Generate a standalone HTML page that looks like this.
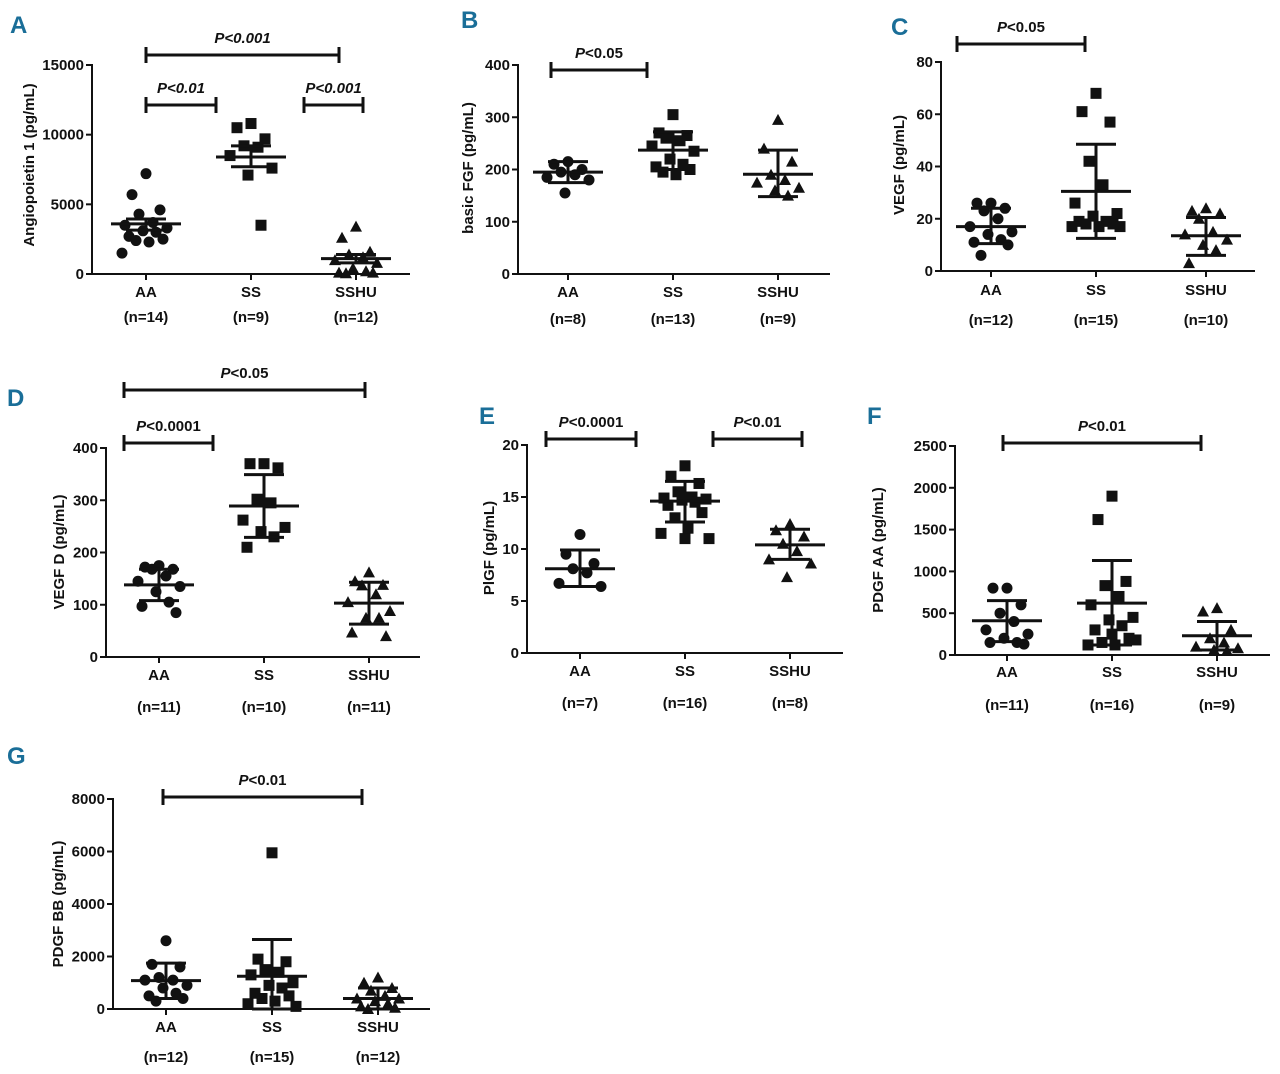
<!DOCTYPE html>
<html><head><meta charset="utf-8"><style>
html,body{margin:0;padding:0;background:#fff;}
svg{display:block;font-family:"Liberation Sans Narrow","Liberation Sans",sans-serif;}
.t{font-weight:bold;font-size:15px;fill:#111;}
.tk{font-weight:bold;font-size:15px;fill:#111;}
.lt{font-family:"Liberation Sans Narrow","Liberation Sans",sans-serif;font-weight:bold;font-size:24px;fill:#1a6e98;}
</style></head><body>
<svg id="fig" width="1280" height="1074" viewBox="0 0 1280 1074" xmlns="http://www.w3.org/2000/svg"></svg>
<script>
const categories = ["AA","SS","SSHU"];
// Panel A: Angiopoietin 1
const aAA = [7200,5700,4600,4300,3700,3500,3300,3100,3000,2700,2500,2400,2300,1500];
const aSS = [10800,10500,9700,9200,9100,8500,7600,7100,3500];
const aSSHU = [3400,2600,1600,1400,1200,1000,800,400,200,100,100,50];
const aMean = [3600,8400,1100];
const aLow = [3150,7700,800];
const aHigh = [3950,9200,1400];
const aN = [14,9,12];
const aTicks = [0,5000,10000,15000];
// Panel B: basic FGF
const bAA = [215,210,200,195,190,185,180,155];
const bSS = [305,270,265,260,255,245,235,220,210,205,200,195,190];
const bSSHU = [295,240,215,190,180,175,165,160,150];
const bMean = [195,237,191];
const bLow = [175,200,148];
const bHigh = [215,272,237];
const bN = [8,13,9];
const bTicks = [0,100,200,300,400];
// Panel C: VEGF
const cAA = [26,26,24,23,20,17,15,14,12,11,10,6];
const cSS = [68,61,57,42,33,26,22,21,19,19,18,18,17,17,17];
const cSSHU = [24,23,22,20,15,14,12,10,8,3];
const cMean = [17,30.5,13.5];
const cLow = [10.5,12.5,6];
const cHigh = [24,48.5,20.5];
const cN = [12,15,10];
const cTicks = [0,20,40,60,80];
// Panel D: VEGF D
const dAA = [175,172,168,168,155,145,135,125,105,97,85];
const dSS = [370,370,362,302,295,262,248,240,230,210];
const dSSHU = [162,145,138,137,120,105,88,75,75,47,40];
const dMean = [138,289,103];
const dLow = [108,229,63];
const dHigh = [168,349,143];
const dN = [11,10,11];
const dTicks = [0,100,200,300,400];
// Panel E: PlGF
const eAA = [11.4,9.5,8.6,8.1,7.7,6.7,6.4];
const eSS = [18,17,16.3,15.5,15,14.9,14.8,14.7,14.5,14.2,13.5,13,12,11.5,11,11];
const eSSHU = [12.4,11.8,11.2,10.5,9.8,9,8.6,7.3];
const eMean = [8.1,14.6,10.4];
const eLow = [6.4,12.6,9];
const eHigh = [9.9,16.5,11.9];
const eN = [7,16,8];
const eTicks = [0,5,10,15,20];
// Panel F: PDGF AA
const fAA = [800,800,600,500,400,300,250,200,150,150,130];
const fSS = [1900,1620,880,830,700,600,450,420,350,300,200,150,120,120,180,250];
const fSSHU = [560,520,300,200,150,100,80,60,50];
const fMean = [410,620,230];
const fLow = [160,120,60];
const fHigh = [650,1130,400];
const fN = [11,16,9];
const fTicks = [0,500,1000,1500,2000,2500];
// Panel G: PDGF BB
const gAA = [2600,1700,1600,1200,1100,1100,900,800,600,500,400,300];
const gSS = [5950,1900,1800,1500,1400,1300,1000,900,800,600,500,400,300,200,100];
const gSSHU = [1200,1000,800,700,500,400,400,300,200,100,50,0];
const gMean = [1080,1250,400];
const gLow = [400,0,0];
const gHigh = [1750,2650,800];
const gN = [12,15,12];
const gTicks = [0,2000,4000,6000,8000];

const NS="http://www.w3.org/2000/svg";
const svg=document.getElementById('fig');
function mk(tag,attrs,parent){const e=document.createElementNS(NS,tag);for(const k in attrs)e.setAttribute(k,attrs[k]);(parent||svg).appendChild(e);return e;}
const jit=[0,-14,14,-7,7,-21,21,-3,10,-17,17,-10,3,-24,24,0];

function panel(p){
  const g=mk('g',{});
  
  
  const yS=v=>p.y0-(v/p.max)*(p.y0-p.y1);
  const lt=mk('text',{x:p.lx,y:p.ly,class:'lt'},g);lt.textContent=p.id;
  
  const ax=mk('path',{d:`M${p.ax} ${p.y1-1}V${p.y0}H${p.xe}`,stroke:'#111','stroke-width':2,fill:'none'},g);
  
  p.ticks.forEach(t=>{const y=yS(t);mk('line',{x1:p.ax-6,x2:p.ax,y1:y,y2:y,stroke:'#111','stroke-width':2},g);
    const tx=mk('text',{x:p.ax-8,y:y+5,'text-anchor':'end',class:'tk'},g);tx.textContent=t;
    });
  const yt=mk('text',{x:p.tx,y:p.tyc,'text-anchor':'middle',class:'t',transform:`rotate(-90 ${p.tx} ${p.tyc})`,'font-size':'16px'},g);
  yt.textContent=p.title;
  p.series.forEach((vals,i)=>{
    const cx=p.cx[i];
    mk('line',{x1:cx,x2:cx,y1:p.y0,y2:p.y0+6,stroke:'#111','stroke-width':2},g);
    const cl=mk('text',{x:cx,y:p.cly,'text-anchor':'middle',class:'t'},g);cl.textContent=categories[i];
    
    const nl=mk('text',{x:cx,y:p.nly,'text-anchor':'middle',class:'t','font-size':p.nfs||'14px'},g);nl.textContent='(n='+p.n[i]+')';
    
    vals.forEach((v,j)=>{const x=cx+jit[j%jit.length],y=yS(v);let m;
      if(i===0)m=mk('circle',{cx:x,cy:y,r:5.5,fill:'#111'},g);
      else if(i===1)m=mk('rect',{x:x-5.5,y:y-5.5,width:11,height:11,fill:'#111'},g);
      else m=mk('path',{d:`M${x} ${y-6}L${x+6} ${y+5}L${x-6} ${y+5}Z`,fill:'#111'},g);
      });
    const ym=yS(p.mean[i]),yl=yS(p.low[i]),yh=yS(p.high[i]);
    const eb=mk('path',{d:`M${cx-35} ${ym}H${cx+35}M${cx} ${yl}V${yh}M${cx-20} ${yl}H${cx+20}M${cx-20} ${yh}H${cx+20}`,stroke:'#111','stroke-width':3,fill:'none'},g);
    
  });
  p.br.forEach(b=>{
    const bp=mk('path',{d:`M${b[0]} ${b[2]-8}V${b[2]+8}M${b[0]} ${b[2]}H${b[1]}M${b[1]} ${b[2]-8}V${b[2]+8}`,stroke:'#111','stroke-width':3,fill:'none'},g);
    
    const st=mk('text',{x:(b[0]+b[1])/2,y:b[2]-12,'text-anchor':'middle',class:'t','font-style':b[4]?'italic':'normal'},g);
    st.innerHTML='<tspan font-style="italic">P</tspan>'+b[3].replace('<','&lt;');
    
  });
}
panel({id:'A',lx:10,ly:33,ax:92,xe:410,y0:274,y1:65,max:15000,ticks:aTicks,title:'Angiopoietin 1 (pg/mL)',tx:34,tyc:165,
  cx:[146,251,356],cly:297,nly:322,nfs:'16px',series:[aAA,aSS,aSSHU],mean:aMean,low:aLow,high:aHigh,n:aN,
  br:[[146,339,55,'<0.001',1],[146,216,105,'<0.01',1],[304,363,105,'<0.001',1]]});
panel({id:'B',lx:461,ly:28,ax:518,xe:830,y0:274,y1:65,max:400,ticks:bTicks,title:'basic FGF (pg/mL)',tx:473,tyc:168,
  cx:[568,673,778],cly:297,nly:324,series:[bAA,bSS,bSSHU],mean:bMean,low:bLow,high:bHigh,n:bN,
  br:[[551,647,70,'<0.05']]});
panel({id:'C',lx:891,ly:35,ax:941,xe:1255,y0:271,y1:62,max:80,ticks:cTicks,title:'VEGF (pg/mL)',tx:904,tyc:165,
  cx:[991,1096,1206],cly:295,nly:325,series:[cAA,cSS,cSSHU],mean:cMean,low:cLow,high:cHigh,n:cN,
  br:[[957,1085,44,'<0.05']]});
panel({id:'D',lx:7,ly:406,ax:106,xe:420,y0:657,y1:448,max:400,ticks:dTicks,title:'VEGF D (pg/mL)',tx:64,tyc:552,
  cx:[159,264,369],cly:680,nly:712,series:[dAA,dSS,dSSHU],mean:dMean,low:dLow,high:dHigh,n:dN,
  br:[[124,365,390,'<0.05'],[124,213,443,'<0.0001']]});
panel({id:'E',lx:479,ly:424,ax:527,xe:843,y0:653,y1:445,max:20,ticks:eTicks,title:'PlGF (pg/mL)',tx:494,tyc:548,
  cx:[580,685,790],cly:676,nly:708,series:[eAA,eSS,eSSHU],mean:eMean,low:eLow,high:eHigh,n:eN,
  br:[[546,636,439,'<0.0001'],[713,802,439,'<0.01']]});
panel({id:'F',lx:867,ly:424,ax:955,xe:1270,y0:655,y1:446,max:2500,ticks:fTicks,title:'PDGF AA (pg/mL)',tx:883,tyc:550,
  cx:[1007,1112,1217],cly:677,nly:710,series:[fAA,fSS,fSSHU],mean:fMean,low:fLow,high:fHigh,n:fN,
  br:[[1003,1201,443,'<0.01']]});
panel({id:'G',lx:7,ly:764,ax:113,xe:430,y0:1009,y1:799,max:8000,ticks:gTicks,title:'PDGF BB (pg/mL)',tx:63,tyc:904,
  cx:[166,272,378],cly:1032,nly:1062,series:[gAA,gSS,gSSHU],mean:gMean,low:gLow,high:gHigh,n:gN,
  br:[[163,362,797,'<0.01']]});
</script>
</body></html>
